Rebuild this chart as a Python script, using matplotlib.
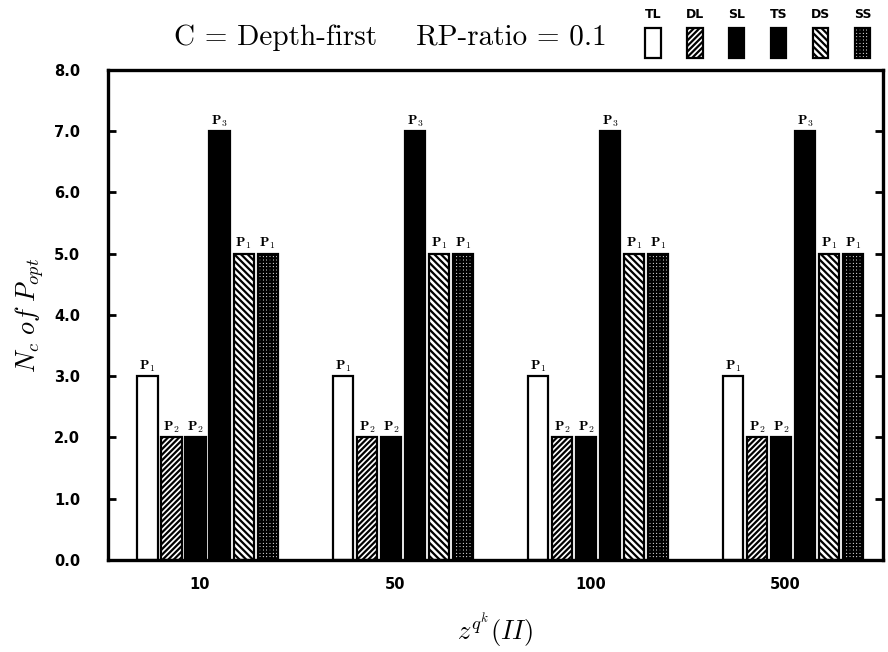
"""Optimal-plan counts per strategy, depth-first cost model, RP-ratio 0.1."""

import matplotlib

matplotlib.use("Agg")
import matplotlib.pyplot as plt
import numpy as np

plt.rcParams["mathtext.fontset"] = "cm"
plt.rcParams["hatch.linewidth"] = 1.6

GROUPS = ["10", "50", "100", "500"]
STRATEGIES = ["TL", "DL", "SL", "TS", "DS", "SS"]
TL = [3.0, 3.0, 3.0, 3.0]
DL = [2.0, 2.0, 2.0, 2.0]
SL = [2.0, 2.0, 2.0, 2.0]
TS = [7.0, 7.0, 7.0, 7.0]
DS = [5.0, 5.0, 5.0, 5.0]
SS = [5.0, 5.0, 5.0, 5.0]
PLAN_LABELS = ["P_1", "P_2", "P_2", "P_3", "P_1", "P_1"]
Y_TICKS = [0.0, 1.0, 2.0, 3.0, 4.0, 5.0, 6.0, 7.0, 8.0]

STYLES = {
    "TL": dict(facecolor="white", hatch=None),
    "DL": dict(facecolor="white", hatch="//////"),
    "SL": dict(facecolor="black", hatch=None),
    "TS": dict(facecolor="black", hatch=None),
    "DS": dict(facecolor="white", hatch="\\\\\\\\\\"),
    "SS": dict(facecolor="white", hatch="+++++"),
}

series = dict(zip(STRATEGIES, [TL, DL, SL, TS, DS, SS]))

fig = plt.figure(figsize=(8.88, 6.52), dpi=100)
ax = fig.add_axes([0.1216, 0.141, 0.8728, 0.752])

x = np.arange(len(GROUPS))
step = 0.123
width = 0.103
for k, name in enumerate(STRATEGIES):
    pos = x + (k - 2.5) * step
    ax.bar(pos, series[name], width, edgecolor="black", linewidth=1.6,
           **STYLES[name])
    for px, val in zip(pos, series[name]):
        ax.text(px, val + 0.04, rf"$\mathbf{{{PLAN_LABELS[k]}}}$", ha="center",
                va="bottom", fontsize=10, fontweight="bold")

ax.set_xlim(-0.51, 3.46)
ax.set_ylim(0.0, 8.0)
ax.set_xticks(x - 0.04, GROUPS)
ax.set_yticks(Y_TICKS, [f"{v:.1f}" for v in Y_TICKS])
ax.tick_params(axis="x", length=0, pad=12, labelsize=10.5)
ax.tick_params(axis="y", direction="in", length=6, width=2, right=True,
               pad=20, labelsize=10.5)
for lbl in ax.get_xticklabels() + ax.get_yticklabels():
    lbl.set_fontweight("bold")
for spine in ax.spines.values():
    spine.set_linewidth(2.4)

ax.set_ylabel(r"$N_c\ of\ P_{opt}$", fontsize=19, labelpad=6)
ax.set_xlabel(r"$z^{q^k}(II)$", fontsize=19, labelpad=14)

fig.text(0.44, 0.942, "C = Depth-first    RP-ratio = 0.1", family="cmr10",
         fontsize=21, ha="center", va="center")

# legend: labels above small swatches
leg = fig.add_axes([632 / 888, 1 - 62 / 652, 256 / 888, 62 / 652])
leg.set_xlim(-0.5, 5.6)
leg.set_ylim(0, 62)
leg.axis("off")
for k, name in enumerate(STRATEGIES):
    leg.bar(k, 30, 0.36, bottom=4, edgecolor="black", linewidth=1.6,
            **STYLES[name])
    leg.text(k, 47, name, ha="center", va="center", fontsize=9,
             fontweight="bold")

fig.savefig("out.png", dpi=100)
